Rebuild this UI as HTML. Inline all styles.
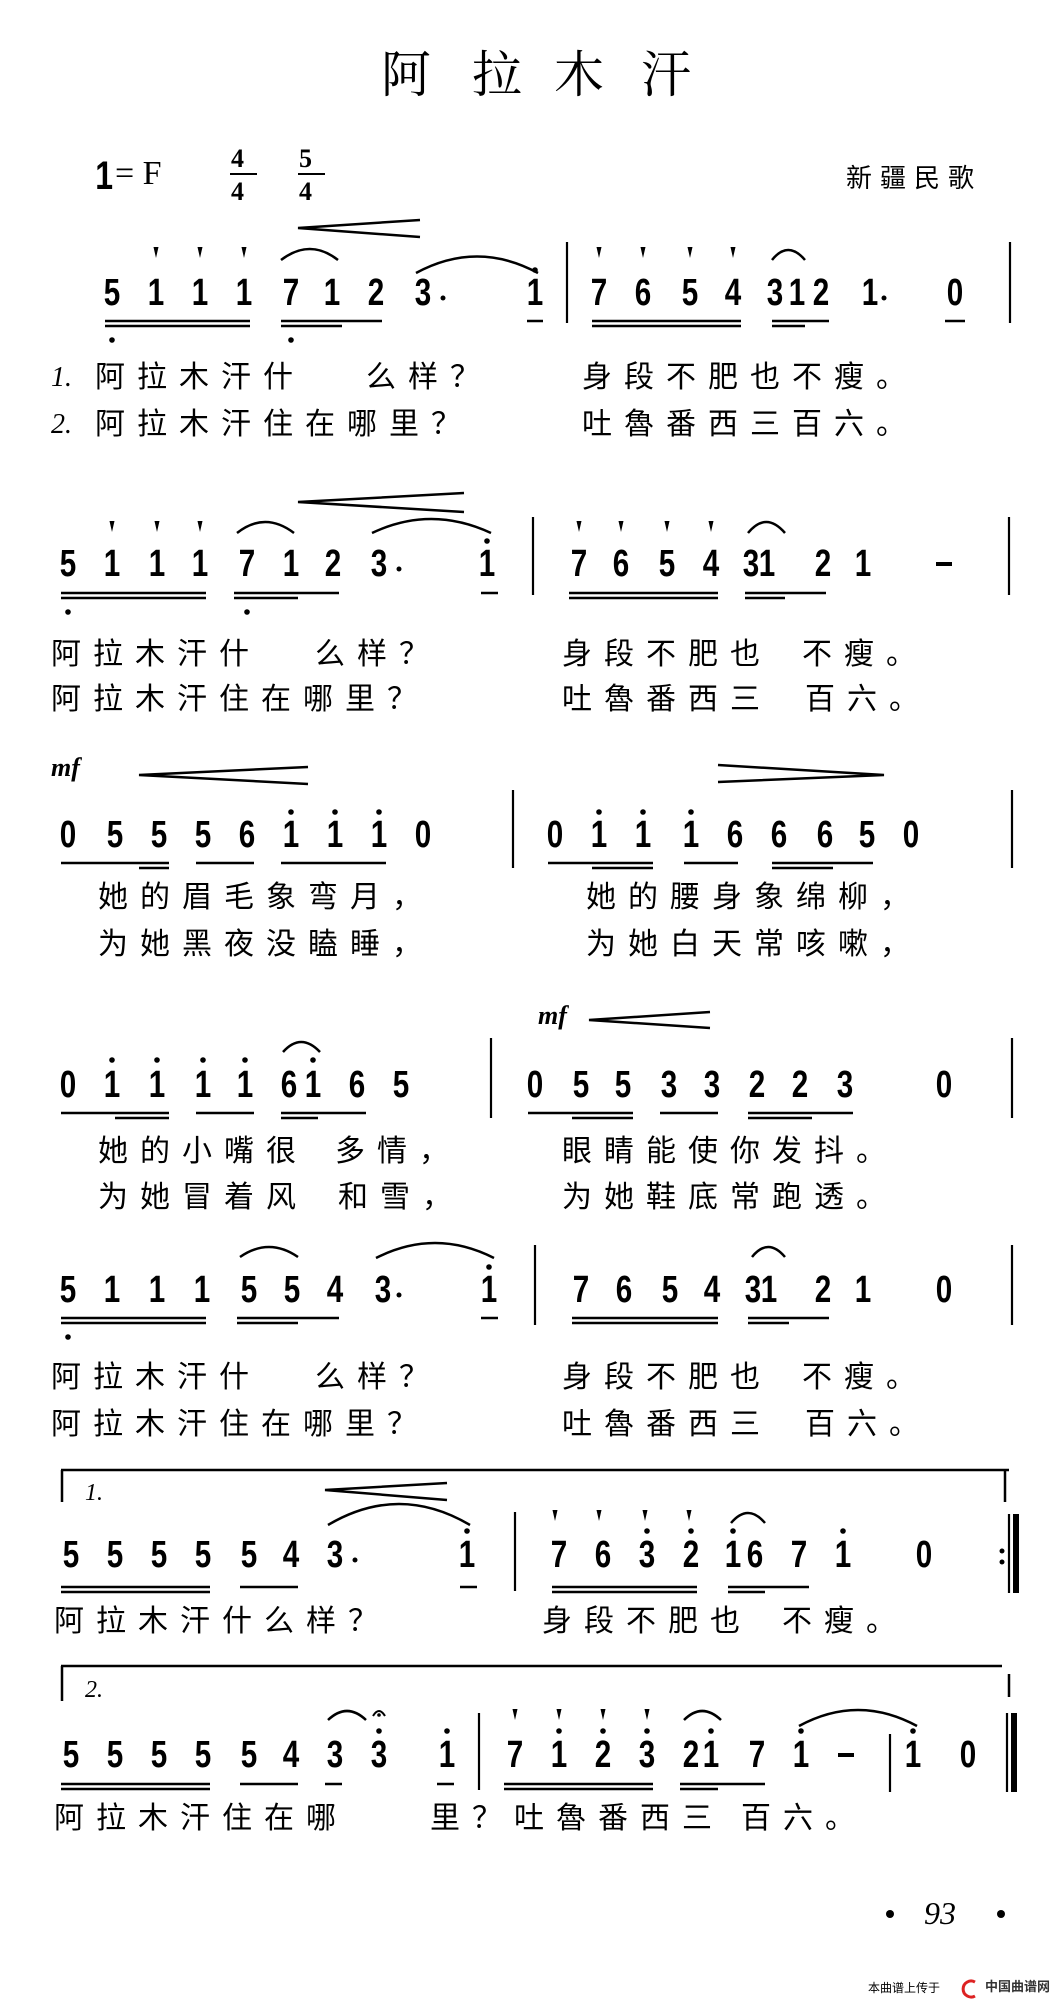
<!DOCTYPE html>
<html><head><meta charset="utf-8">
<style>
html,body{margin:0;padding:0;background:#fff;}
#p{position:relative;width:1056px;height:2003px;overflow:hidden;background:#fff;}
.n{position:absolute;width:30px;margin-left:-15px;text-align:center;font:bold 38px/36px "Liberation Sans",sans-serif;color:#000;transform:scaleX(.78);}
.l{position:absolute;font:30px/30px "Liberation Sans","Noto Sans CJK SC",sans-serif;letter-spacing:12px;white-space:pre;color:#000;}
.v{position:absolute;font:italic 28px/30px "Liberation Serif",serif;color:#000;}
.t{position:absolute;top:46px;width:56px;text-align:center;font:50px/50px "Noto Serif CJK SC",serif;color:#000;}
.mf{position:absolute;font:italic bold 26px/26px "Liberation Serif",serif;color:#000;}
svg{position:absolute;left:0;top:0;}
</style></head><body><div id="p">
<svg width="1056" height="2003" viewBox="0 0 1056 2003">
<g stroke="#000" stroke-width="2.5" fill="none">
<path d="M420 220L298 228L420 237"/>
<path d="M464 493L298 502L464 512"/>
<path d="M308 767L139 775L308 784"/>
<path d="M718 765L884 775L718 782"/>
<path d="M710 1012L589 1020L710 1028"/>
<path d="M447 1483L325 1490L447 1500"/>
<path d="M281 260Q310 238 338 260"/><path d="M416 273Q477 240 538 273"/><path d="M772 260Q788 240 805 260"/>
<path d="M237 533Q265 511 294 533"/><path d="M372 533Q431 505 491 533"/><path d="M748 533Q766 511 785 533"/>
<path d="M283 1052Q301 1032 320 1052"/>
<path d="M240 1257Q269 1237 298 1257"/><path d="M376 1258Q435 1228 494 1258"/><path d="M752 1257Q768 1237 785 1257"/>
<path d="M328 1525Q399 1483 470 1525"/><path d="M731 1523Q748 1503 765 1523"/>
<path d="M328 1720Q347 1702 366 1720"/><path d="M684 1720Q702 1702 721 1720"/><path d="M799 1726Q858 1694 917 1726"/>
<path d="M373 1716Q379 1706 385 1716" stroke-width="2"/>
<path d="M61 1470H1009M62 1470V1502M1005 1470V1502"/>
<path d="M61 1666H1002M62 1666V1701M1009 1674V1697"/>
</g>
<g stroke="#000" stroke-width="2.2">
<path d="M567 242V323M1010 242V323"/>
<path d="M533 517V595M1009 517V595"/>
<path d="M513 790V868M1012 790V868"/>
<path d="M491 1038V1118M1012 1038V1118"/>
<path d="M535 1245V1325M1012 1245V1325"/>
<path d="M515 1512V1591M1009 1514V1593"/>
<path d="M479 1713V1790M890 1734V1792M1007 1713V1792"/>
<path d="M230 174H257M298 174H325" stroke-width="2"/>
<path d="M936 564H952M838 1755H854" stroke-width="4"/>
</g>
<rect x="1013" y="1514" width="6" height="79" fill="#000"/>
<rect x="1011" y="1713" width="6" height="79" fill="#000"/>
<g stroke="#000" stroke-width="2.5">
<path d="M105 321H250M105 326H250M281 321H382M281 326H342M527 321H543M592 321H741M592 326H741M772 321H829M772 326H805M945 321H965"/>
<path d="M61 593H206M61 598H206M234 593H339M234 598H298M481 593H498M569 593H718M569 598H718M745 593H826M745 598H785"/>
<path d="M61 863H169M139 868H169M196 863H254M281 863H386M548 863H653M592 868H653M684 863H738M772 863H873M772 868H833"/>
<path d="M61 1113H169M115 1118H169M196 1113H254M281 1113H366M281 1118H318M528 1113H633M572 1118H633M660 1113H718M748 1113H853M748 1118H812"/>
<path d="M61 1318H206M61 1323H206M237 1318H339M237 1323H298M481 1318H498M572 1318H718M572 1323H718M748 1318H829M748 1323H789"/>
<path d="M61 1587H210M61 1592H210M240 1587H298M460 1587H477M552 1587H697M552 1592H697M728 1587H809M728 1592H765"/>
<path d="M61 1784H210M61 1789H210M240 1784H298M325 1784H342M437 1784H454M504 1784H653M504 1789H653M680 1784H765M680 1789H718"/>
</g>
<g fill="#000">
<path d="M153.5 247h5l-2.5 11zM197.5 247h5l-2.5 11zM241.5 247h5l-2.5 11zM596.5 247h5l-2.5 11zM640.5 247h5l-2.5 11zM687.5 247h5l-2.5 11zM730.5 247h5l-2.5 11z"/>
<path d="M109.5 521h5l-2.5 11zM154.5 521h5l-2.5 11zM197.5 521h5l-2.5 11zM576.5 521h5l-2.5 11zM618.5 521h5l-2.5 11zM664.5 521h5l-2.5 11zM708.5 521h5l-2.5 11z"/>
<path d="M552.5 1510h5l-2.5 11zM596.5 1510h5l-2.5 11zM642.5 1510h5l-2.5 11zM686.5 1510h5l-2.5 11z"/>
<path d="M512.5 1709h5l-2.5 11zM556.5 1709h5l-2.5 11zM600.5 1709h5l-2.5 11zM644.5 1709h5l-2.5 11z"/>
<circle cx="535" cy="270" r="2.8"/>
<circle cx="487" cy="541" r="2.8"/>
<circle cx="291" cy="812" r="2.8"/><circle cx="335" cy="812" r="2.8"/><circle cx="379" cy="812" r="2.8"/><circle cx="599" cy="812" r="2.8"/><circle cx="643" cy="812" r="2.8"/><circle cx="691" cy="812" r="2.8"/>
<circle cx="112" cy="1060" r="2.8"/><circle cx="157" cy="1060" r="2.8"/><circle cx="203" cy="1060" r="2.8"/><circle cx="245" cy="1060" r="2.8"/><circle cx="313" cy="1060" r="2.8"/>
<circle cx="489" cy="1267" r="2.8"/>
<circle cx="467" cy="1531" r="2.8"/><circle cx="647" cy="1531" r="2.8"/><circle cx="691" cy="1531" r="2.8"/><circle cx="733" cy="1531" r="2.8"/><circle cx="843" cy="1531" r="2.8"/>
<circle cx="379" cy="1731" r="2.8"/><circle cx="447" cy="1731" r="2.8"/><circle cx="559" cy="1731" r="2.8"/><circle cx="603" cy="1731" r="2.8"/><circle cx="647" cy="1731" r="2.8"/><circle cx="711" cy="1731" r="2.8"/><circle cx="801" cy="1731" r="2.8"/><circle cx="913" cy="1731" r="2.8"/>
<circle cx="379" cy="1715" r="1.8"/>
<circle cx="112" cy="340" r="2.8"/><circle cx="291" cy="340" r="2.8"/>
<circle cx="68" cy="612" r="2.8"/><circle cx="247" cy="612" r="2.8"/>
<circle cx="68" cy="1337" r="2.8"/>
<circle cx="443" cy="298" r="2.5"/><circle cx="884" cy="298" r="2.5"/>
<circle cx="399" cy="569" r="2.5"/><circle cx="399" cy="1295" r="2.5"/><circle cx="355" cy="1560" r="2.5"/>
<circle cx="1002" cy="1551" r="2.5"/><circle cx="1002" cy="1562" r="2.5"/>
<circle cx="890" cy="1914" r="4"/><circle cx="1001" cy="1914" r="4"/>
</g>
<path d="M975 1982a8 8 0 1 0 0 14" stroke="#d22" stroke-width="3" fill="none"/>
</svg>

<div class="t" style="left:378px">阿</div><div class="t" style="left:469px">拉</div><div class="t" style="left:551px">木</div><div class="t" style="left:638px">汗</div>

<div style="position:absolute;left:93px;top:156px;font:bold 40px/40px 'Liberation Sans',sans-serif;transform:scaleX(.8)">1</div>
<div style="position:absolute;left:115px;top:157px;font:34px/34px 'Liberation Serif',serif">= F</div>
<div style="position:absolute;left:231px;top:146px;font:bold 26px/26px 'Liberation Serif',serif">4</div>
<div style="position:absolute;left:231px;top:179px;font:bold 26px/26px 'Liberation Serif',serif">4</div>
<div style="position:absolute;left:299px;top:146px;font:bold 26px/26px 'Liberation Serif',serif">5</div>
<div style="position:absolute;left:299px;top:179px;font:bold 26px/26px 'Liberation Serif',serif">4</div>
<div style="position:absolute;left:846px;top:164px;font:26px/28px 'Liberation Sans','Noto Sans CJK SC',sans-serif;letter-spacing:8px">新疆民歌</div>

<div class="mf" style="left:51px;top:755px">mf</div>
<div class="mf" style="left:538px;top:1003px">mf</div>

<div class="n" style="left:112px;top:275px">5</div><div class="n" style="left:156px;top:275px">1</div><div class="n" style="left:200px;top:275px">1</div><div class="n" style="left:244px;top:275px">1</div><div class="n" style="left:291px;top:275px">7</div><div class="n" style="left:332px;top:275px">1</div><div class="n" style="left:376px;top:275px">2</div><div class="n" style="left:423px;top:275px">3</div><div class="n" style="left:535px;top:275px">1</div><div class="n" style="left:599px;top:275px">7</div><div class="n" style="left:643px;top:275px">6</div><div class="n" style="left:690px;top:275px">5</div><div class="n" style="left:733px;top:275px">4</div><div class="n" style="left:775px;top:275px">3</div><div class="n" style="left:797px;top:275px">1</div><div class="n" style="left:821px;top:275px">2</div><div class="n" style="left:870px;top:275px">1</div><div class="n" style="left:955px;top:275px">0</div>
<div class="n" style="left:68px;top:546px">5</div><div class="n" style="left:112px;top:546px">1</div><div class="n" style="left:157px;top:546px">1</div><div class="n" style="left:200px;top:546px">1</div><div class="n" style="left:247px;top:546px">7</div><div class="n" style="left:291px;top:546px">1</div><div class="n" style="left:333px;top:546px">2</div><div class="n" style="left:379px;top:546px">3</div><div class="n" style="left:487px;top:546px">1</div><div class="n" style="left:579px;top:546px">7</div><div class="n" style="left:621px;top:546px">6</div><div class="n" style="left:667px;top:546px">5</div><div class="n" style="left:711px;top:546px">4</div><div class="n" style="left:751px;top:546px">3</div><div class="n" style="left:767px;top:546px">1</div><div class="n" style="left:823px;top:546px">2</div><div class="n" style="left:863px;top:546px">1</div>
<div class="n" style="left:68px;top:817px">0</div><div class="n" style="left:115px;top:817px">5</div><div class="n" style="left:159px;top:817px">5</div><div class="n" style="left:203px;top:817px">5</div><div class="n" style="left:247px;top:817px">6</div><div class="n" style="left:291px;top:817px">1</div><div class="n" style="left:335px;top:817px">1</div><div class="n" style="left:379px;top:817px">1</div><div class="n" style="left:423px;top:817px">0</div><div class="n" style="left:555px;top:817px">0</div><div class="n" style="left:599px;top:817px">1</div><div class="n" style="left:643px;top:817px">1</div><div class="n" style="left:691px;top:817px">1</div><div class="n" style="left:735px;top:817px">6</div><div class="n" style="left:779px;top:817px">6</div><div class="n" style="left:825px;top:817px">6</div><div class="n" style="left:867px;top:817px">5</div><div class="n" style="left:911px;top:817px">0</div>
<div class="n" style="left:68px;top:1067px">0</div><div class="n" style="left:112px;top:1067px">1</div><div class="n" style="left:157px;top:1067px">1</div><div class="n" style="left:203px;top:1067px">1</div><div class="n" style="left:245px;top:1067px">1</div><div class="n" style="left:289px;top:1067px">6</div><div class="n" style="left:313px;top:1067px">1</div><div class="n" style="left:357px;top:1067px">6</div><div class="n" style="left:401px;top:1067px">5</div><div class="n" style="left:535px;top:1067px">0</div><div class="n" style="left:581px;top:1067px">5</div><div class="n" style="left:623px;top:1067px">5</div><div class="n" style="left:669px;top:1067px">3</div><div class="n" style="left:712px;top:1067px">3</div><div class="n" style="left:757px;top:1067px">2</div><div class="n" style="left:800px;top:1067px">2</div><div class="n" style="left:845px;top:1067px">3</div><div class="n" style="left:944px;top:1067px">0</div>
<div class="n" style="left:68px;top:1272px">5</div><div class="n" style="left:112px;top:1272px">1</div><div class="n" style="left:157px;top:1272px">1</div><div class="n" style="left:202px;top:1272px">1</div><div class="n" style="left:249px;top:1272px">5</div><div class="n" style="left:292px;top:1272px">5</div><div class="n" style="left:335px;top:1272px">4</div><div class="n" style="left:383px;top:1272px">3</div><div class="n" style="left:489px;top:1272px">1</div><div class="n" style="left:581px;top:1272px">7</div><div class="n" style="left:624px;top:1272px">6</div><div class="n" style="left:670px;top:1272px">5</div><div class="n" style="left:712px;top:1272px">4</div><div class="n" style="left:753px;top:1272px">3</div><div class="n" style="left:769px;top:1272px">1</div><div class="n" style="left:823px;top:1272px">2</div><div class="n" style="left:863px;top:1272px">1</div><div class="n" style="left:944px;top:1272px">0</div>
<div class="n" style="left:71px;top:1537px">5</div><div class="n" style="left:115px;top:1537px">5</div><div class="n" style="left:159px;top:1537px">5</div><div class="n" style="left:203px;top:1537px">5</div><div class="n" style="left:249px;top:1537px">5</div><div class="n" style="left:291px;top:1537px">4</div><div class="n" style="left:335px;top:1537px">3</div><div class="n" style="left:467px;top:1537px">1</div><div class="n" style="left:559px;top:1537px">7</div><div class="n" style="left:603px;top:1537px">6</div><div class="n" style="left:647px;top:1537px">3</div><div class="n" style="left:691px;top:1537px">2</div><div class="n" style="left:733px;top:1537px">1</div><div class="n" style="left:755px;top:1537px">6</div><div class="n" style="left:799px;top:1537px">7</div><div class="n" style="left:843px;top:1537px">1</div><div class="n" style="left:924px;top:1537px">0</div>
<div class="n" style="left:71px;top:1737px">5</div><div class="n" style="left:115px;top:1737px">5</div><div class="n" style="left:159px;top:1737px">5</div><div class="n" style="left:203px;top:1737px">5</div><div class="n" style="left:249px;top:1737px">5</div><div class="n" style="left:291px;top:1737px">4</div><div class="n" style="left:335px;top:1737px">3</div><div class="n" style="left:379px;top:1737px">3</div><div class="n" style="left:447px;top:1737px">1</div><div class="n" style="left:515px;top:1737px">7</div><div class="n" style="left:559px;top:1737px">1</div><div class="n" style="left:603px;top:1737px">2</div><div class="n" style="left:647px;top:1737px">3</div><div class="n" style="left:691px;top:1737px">2</div><div class="n" style="left:711px;top:1737px">1</div><div class="n" style="left:757px;top:1737px">7</div><div class="n" style="left:801px;top:1737px">1</div><div class="n" style="left:913px;top:1737px">1</div><div class="n" style="left:968px;top:1737px">0</div>

<div class="v" style="left:85px;top:1478px;font-size:24px">1.</div>
<div class="v" style="left:85px;top:1675px;font-size:24px">2.</div>

<div class="v" style="left:51px;top:363px">1.</div>
<div class="l" style="left:95px;top:363px">阿拉木汗什</div><div class="l" style="left:366px;top:363px">么样？</div><div class="l" style="left:582px;top:363px">身段不肥也不瘦。</div>
<div class="v" style="left:51px;top:410px">2.</div>
<div class="l" style="left:95px;top:410px">阿拉木汗住在哪里？</div><div class="l" style="left:582px;top:410px">吐魯番西三百六。</div>

<div class="l" style="left:51px;top:640px">阿拉木汗什</div><div class="l" style="left:315px;top:640px">么样？</div><div class="l" style="left:562px;top:640px">身段不肥也</div><div class="l" style="left:802px;top:640px">不瘦。</div>
<div class="l" style="left:51px;top:685px">阿拉木汗住在哪里？</div><div class="l" style="left:562px;top:685px">吐魯番西三</div><div class="l" style="left:805px;top:685px">百六。</div>

<div class="l" style="left:98px;top:883px">她的眉毛象弯月，</div><div class="l" style="left:586px;top:883px">她的腰身象绵柳，</div>
<div class="l" style="left:98px;top:930px">为她黑夜没瞌睡，</div><div class="l" style="left:586px;top:930px">为她白天常咳嗽，</div>

<div class="l" style="left:98px;top:1137px">她的小嘴很</div><div class="l" style="left:335px;top:1137px">多情，</div><div class="l" style="left:562px;top:1137px">眼睛能使你发抖。</div>
<div class="l" style="left:98px;top:1183px">为她冒着风</div><div class="l" style="left:338px;top:1183px">和雪，</div><div class="l" style="left:562px;top:1183px">为她鞋底常跑透。</div>

<div class="l" style="left:51px;top:1363px">阿拉木汗什</div><div class="l" style="left:315px;top:1363px">么样？</div><div class="l" style="left:562px;top:1363px">身段不肥也</div><div class="l" style="left:802px;top:1363px">不瘦。</div>
<div class="l" style="left:51px;top:1410px">阿拉木汗住在哪里？</div><div class="l" style="left:562px;top:1410px">吐魯番西三</div><div class="l" style="left:805px;top:1410px">百六。</div>

<div class="l" style="left:54px;top:1607px">阿拉木汗什么样？</div><div class="l" style="left:542px;top:1607px">身段不肥也</div><div class="l" style="left:782px;top:1607px">不瘦。</div>

<div class="l" style="left:54px;top:1804px">阿拉木汗住在哪</div><div class="l" style="left:430px;top:1804px">里？吐魯番西三</div><div class="l" style="left:741px;top:1804px">百六。</div>

<div style="position:absolute;left:924px;top:1897px;font:italic 32px/32px 'Liberation Serif',serif">93</div>
<div style="position:absolute;left:868px;top:1981px;font:12px/14px 'Liberation Sans','Noto Sans CJK SC',sans-serif">本曲谱上传于</div>
<div style="position:absolute;left:985px;top:1980px;font:bold 13px/14px 'Liberation Sans','Noto Sans CJK SC',sans-serif;color:#333">中国曲谱网</div>
</div></body></html>
